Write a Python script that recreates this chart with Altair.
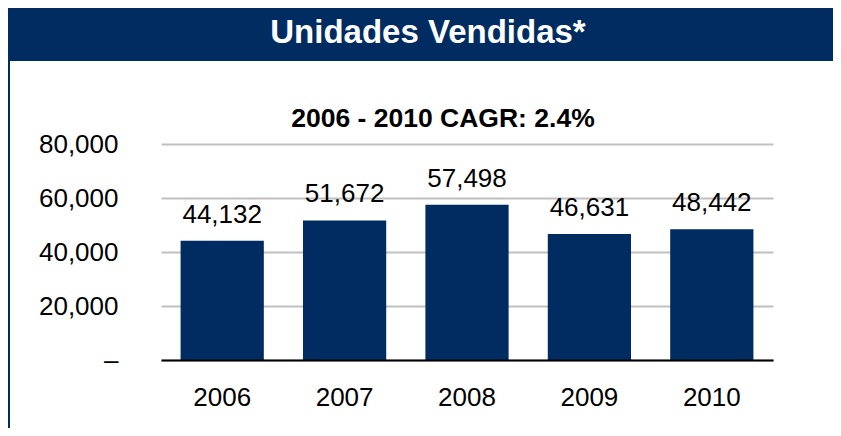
import altair as alt
import pandas as pd

years = ["2006", "2007", "2008", "2009", "2010"]
units = [44132, 51672, 57498, 46631, 48442]
y_ticks = [0, 20000, 40000, 60000, 80000]
title_text = "Unidades Vendidas*"
subtitle_text = "2006 - 2010 CAGR: 2.4%"

NAVY = "#002c61"
FONT = "Liberation Sans"

df = pd.DataFrame({"year": years, "units": units})
one = pd.DataFrame({"k": [0]})

W, H = 612, 216
PAD_L, PAD_T, PAD_R, PAD_B = 153, 136, 60, 68

header = alt.Chart(one).mark_rect(color=NAVY).encode(
    x=alt.value(-PAD_L), x2=alt.value(W + PAD_R),
    y=alt.value(-PAD_T), y2=alt.value(-83),
)
left_border = alt.Chart(one).mark_rect(color=NAVY).encode(
    x=alt.value(-PAD_L + 0), x2=alt.value(-PAD_L + 2),
    y=alt.value(-90), y2=alt.value(H + PAD_B),
)
header_text = alt.Chart(one).mark_text(
    text=title_text, font=FONT, fontSize=33, fontWeight="bold",
    color="white", align="center", baseline="alphabetic",
).encode(x=alt.value(267), y=alt.value(-101))

sub_text = alt.Chart(one).mark_text(
    text=subtitle_text, font=FONT, fontSize=26.5, fontWeight="bold",
    color="black", align="center", baseline="alphabetic",
).encode(x=alt.value(282), y=alt.value(-17))

base = alt.Chart(df).encode(
    x=alt.X("year:N", sort=years,
            scale=alt.Scale(paddingInner=0.32, paddingOuter=0.16),
            axis=alt.Axis(title=None, labelAngle=0, ticks=False,
                          domain=True, domainColor="black", domainWidth=2,
                          labelFont=FONT, labelFontSize=26, labelColor="black",
                          labelBaseline="alphabetic", labelPadding=45,
                          grid=False, zindex=1)),
    y=alt.Y("units:Q",
            scale=alt.Scale(domain=[0, 80000], nice=False),
            axis=alt.Axis(title=None, values=y_ticks, ticks=False, domain=False,
                          grid=True, gridColor="#c0c0c0", gridWidth=2,
                          labelFont=FONT, labelFontSize=26, labelColor="black",
                          labelPadding=43,
                          labelExpr="datum.value == 0 ? '\u2013' : format(datum.value, ',')")),
)

bars = base.mark_bar(color=NAVY)
labels = base.mark_text(
    font=FONT, fontSize=26, color="black", baseline="alphabetic", dy=-18
).encode(text=alt.Text("units:Q", format=","))

chart = alt.layer(header, left_border, header_text, sub_text, bars, labels).properties(
    width=W, height=H,
    autosize=alt.AutoSizeParams(type="none"),
    padding={"left": PAD_L, "top": PAD_T, "right": PAD_R, "bottom": PAD_B},
).configure_view(stroke=None, clip=False)

chart.save("out.html", embed_options={"renderer": "svg", "actions": False})
